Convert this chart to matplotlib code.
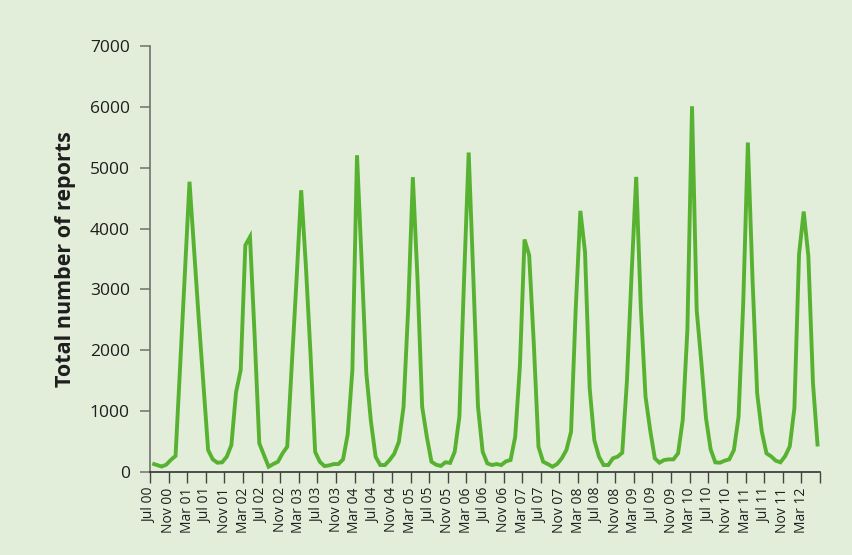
import numpy as np
import matplotlib
matplotlib.use("Agg")
import matplotlib.pyplot as plt

# Monthly totals, Jul 2000 .. Jun 2012
reports = [
    140, 115, 90, 120, 200, 265, 1750, 3260, 4770, 3630, 2500, 1430,
    361, 208, 153, 159, 252, 443, 1310, 1675, 3727, 3864, 2230, 471,
    279, 87, 131, 169, 307, 416, 1790, 3153, 4630, 3400, 1950, 330,
    169, 98, 109, 131, 131, 208, 620, 1675, 5205, 3450, 1625, 826,
    250, 115, 115, 197, 300, 498, 1072, 2690, 4845, 3170, 1072, 580,
    169, 120, 100, 160, 150, 334, 908, 3158, 5250, 3191, 1072, 334,
    143, 115, 131, 115, 175, 197, 580, 1730, 3821, 3563, 2100, 416,
    169, 131, 87, 131, 225, 361, 662, 2676, 4291, 3617, 1379, 525,
    252, 115, 115, 225, 252, 317, 1483, 3235, 4849, 2688, 1243, 690,
    225, 153, 197, 208, 208, 307, 854, 2332, 6010, 2660, 1806, 887,
    372, 159, 153, 186, 208, 361, 908, 2770, 5414, 3169, 1292, 662,
    307, 257, 186, 160, 260, 420, 1050, 3580, 4280, 3550, 1450, 420,
]

tick_labels = [
    "Jul 00", "Nov 00", "Mar 01", "Jul 01", "Nov 01", "Mar 02",
    "Jul 02", "Nov 02", "Mar 03", "Jul 03", "Nov 03", "Mar 04",
    "Jul 04", "Nov 04", "Mar 05", "Jul 05", "Nov 05", "Mar 06",
    "Jul 06", "Nov 06", "Mar 07", "Jul 07", "Nov 07", "Mar 08",
    "Jul 08", "Nov 08", "Mar 09", "Jul 09", "Nov 09", "Mar 10",
    "Jul 10", "Nov 10", "Mar 11", "Jul 11", "Nov 11", "Mar 12", "",
]
tick_step = 4
y_ticks = [0, 1000, 2000, 3000, 4000, 5000, 6000, 7000]
y_label = "Total number of reports"

bg = "#e2eed9"
line_color = "#58b232"
text_color = "#1e1e1e"

plt.rcParams["font.family"] = ["Open Sans", "DejaVu Sans"]

fig = plt.figure(figsize=(8.53, 5.55), dpi=100, facecolor=bg)
ax = fig.add_axes([0.1758, 0.1495, 0.9613 - 0.1758, 0.9171 - 0.1495])
ax.set_facecolor(bg)

x = np.arange(len(reports)) + 0.5
ax.plot(x, reports, color=line_color, lw=2.8, solid_joinstyle="miter",
        solid_capstyle="butt")

n_ticks = len(tick_labels)
ax.set_xlim(0, (n_ticks - 1) * tick_step)
ax.set_ylim(0, 7000)
ax.set_xticks(np.arange(n_ticks) * tick_step)
ax.set_xticklabels(tick_labels, rotation=90, fontsize=10, color=text_color)
ax.set_yticks(y_ticks)
ax.set_yticklabels([str(v) for v in y_ticks], fontsize=12.5, color=text_color)

for s in ("top", "right"):
    ax.spines[s].set_visible(False)
ax.spines["left"].set_color("#707070")
ax.spines["left"].set_linewidth(1.2)
ax.spines["bottom"].set_color("#333333")
ax.spines["bottom"].set_linewidth(1.2)
ax.tick_params(axis="y", direction="out", length=7.5, width=1.1,
               color="#707070", pad=7)
ax.tick_params(axis="x", direction="out", length=8, width=1.0,
               color="#444444", pad=3)

ax.set_ylabel(y_label, fontsize=15.5, fontweight="bold", color=text_color,
              labelpad=10)

fig.savefig("out.png", dpi=100, facecolor=bg)
